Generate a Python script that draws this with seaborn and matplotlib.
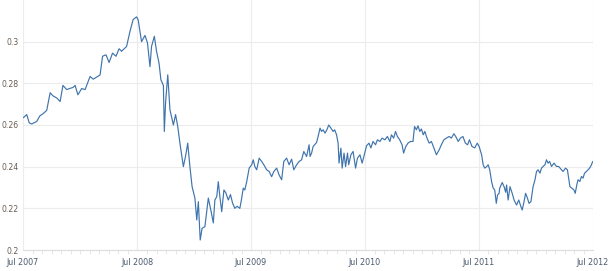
import numpy as np
import pandas as pd
import matplotlib
matplotlib.use("Agg")
import matplotlib.pyplot as plt
import matplotlib.dates as mdates
import seaborn as sns

# Days since 1 Jul 2007
days = [1, 12, 20, 28, 44, 54, 64, 76, 87, 96, 108, 119, 128, 140, 151, 160, 167, 176, 188, 199,
        215, 225, 236, 247, 255, 266, 276, 287, 298, 308, 316, 332, 343, 353, 364, 369, 380, 391, 399, 407,
        412, 421, 428, 436, 442, 450, 453, 457, 464, 471, 482, 489, 496, 503, 514, 521, 528, 535, 542, 551,
        557, 562, 568, 574, 583, 594, 602, 610, 615, 621, 626, 631, 637, 644, 650, 658, 665, 672, 679, 686,
        695, 700, 706, 711, 717, 725, 733, 738, 743, 749, 757, 765, 772, 781, 789, 797, 804, 813, 821, 829,
        836, 845, 853, 861, 868, 877, 885, 893, 900, 909, 917, 920, 925, 930, 941, 946, 952, 957, 962, 968,
        974, 980, 987, 994, 999, 1005, 1010, 1013, 1019, 1023, 1029, 1034, 1040, 1044, 1051, 1058, 1066, 1072, 1080, 1087,
        1094, 1101, 1109, 1115, 1122, 1130, 1136, 1144, 1151, 1160, 1168, 1176, 1181, 1188, 1194, 1200, 1207, 1215, 1220, 1227,
        1234, 1242, 1250, 1255, 1261, 1266, 1272, 1277, 1283, 1288, 1295, 1302, 1309, 1317, 1325, 1334, 1341, 1349, 1357, 1366,
        1373, 1381, 1387, 1395, 1402, 1410, 1418, 1425, 1431, 1439, 1448, 1456, 1462, 1470, 1475, 1480, 1486, 1491, 1496, 1502,
        1507, 1512, 1517, 1521, 1526, 1528, 1536, 1542, 1547, 1550, 1555, 1561, 1568, 1574, 1582, 1589, 1596, 1600, 1606, 1611,
        1617, 1622, 1628, 1635, 1641, 1646, 1651, 1657, 1662, 1667, 1673, 1678, 1683, 1688, 1694, 1702, 1710, 1717, 1726, 1731,
        1739, 1745, 1749, 1753, 1760, 1766, 1770, 1775, 1779, 1785, 1790, 1795, 1800, 1806, 1811, 1816, 1822, 1826]

values = [0.2635, 0.2650, 0.2610, 0.2605, 0.2617, 0.2644, 0.2654, 0.2670, 0.2755, 0.2740, 0.2730, 0.2713, 0.2790, 0.2770, 0.2776, 0.2780, 0.2790, 0.2745, 0.2775, 0.2770,
          0.2833, 0.2820, 0.2830, 0.2840, 0.2930, 0.2937, 0.2900, 0.2945, 0.2930, 0.2966, 0.2954, 0.2977, 0.3050, 0.3106, 0.3119, 0.3106, 0.3000, 0.3030, 0.2994, 0.2880,
          0.2977, 0.3026, 0.2954, 0.2897, 0.2817, 0.2790, 0.2569, 0.2707, 0.2841, 0.2673, 0.2600, 0.2650, 0.2593, 0.2513, 0.2400, 0.2450, 0.2513, 0.2400, 0.2304, 0.2249,
          0.2144, 0.2232, 0.2048, 0.2104, 0.2112, 0.2249, 0.2192, 0.2130, 0.2240, 0.2256, 0.2328, 0.2256, 0.2184, 0.2288, 0.2275, 0.2240, 0.2266, 0.2224, 0.2200, 0.2210,
          0.2200, 0.2240, 0.2297, 0.2288, 0.2328, 0.2393, 0.2409, 0.2433, 0.2401, 0.2385, 0.2441, 0.2425, 0.2409, 0.2385, 0.2377, 0.2352, 0.2377, 0.2393, 0.2360, 0.2337,
          0.2425, 0.2441, 0.2409, 0.2436, 0.2385, 0.2409, 0.2425, 0.2433, 0.2473, 0.2449, 0.2505, 0.2449, 0.2465, 0.2497, 0.2516, 0.2545, 0.2585, 0.2569, 0.2577, 0.2561,
          0.2577, 0.2600, 0.2585, 0.2569, 0.2577, 0.2553, 0.2513, 0.2417, 0.2489, 0.2393, 0.2465, 0.2400, 0.2465, 0.2409, 0.2457, 0.2473, 0.2393, 0.2441, 0.2457, 0.2417,
          0.2457, 0.2500, 0.2513, 0.2490, 0.2521, 0.2505, 0.2529, 0.2521, 0.2537, 0.2529, 0.2545, 0.2521, 0.2553, 0.2537, 0.2569, 0.2545, 0.2530, 0.2505, 0.2465, 0.2497,
          0.2513, 0.2521, 0.2521, 0.2593, 0.2577, 0.2596, 0.2569, 0.2581, 0.2553, 0.2569, 0.2537, 0.2513, 0.2521, 0.2490, 0.2457, 0.2481, 0.2505, 0.2529, 0.2537, 0.2545,
          0.2537, 0.2558, 0.2545, 0.2521, 0.2537, 0.2545, 0.2513, 0.2505, 0.2529, 0.2497, 0.2490, 0.2513, 0.2497, 0.2457, 0.2409, 0.2393, 0.2400, 0.2409, 0.2385, 0.2328,
          0.2297, 0.2288, 0.2224, 0.2264, 0.2272, 0.2297, 0.2324, 0.2304, 0.2277, 0.2312, 0.2240, 0.2304, 0.2272, 0.2240, 0.2216, 0.2240, 0.2208, 0.2192, 0.2232, 0.2272,
          0.2248, 0.2224, 0.2232, 0.2304, 0.2337, 0.2377, 0.2385, 0.2369, 0.2393, 0.2401, 0.2409, 0.2433, 0.2417, 0.2425, 0.2401, 0.2417, 0.2401, 0.2401, 0.2385, 0.2377,
          0.2393, 0.2385, 0.2345, 0.2304, 0.2296, 0.2288, 0.2272, 0.2312, 0.2337, 0.2329, 0.2353, 0.2345, 0.2369, 0.2377, 0.2385, 0.2393, 0.2409, 0.2425]

y_ticks = [0.2, 0.22, 0.24, 0.26, 0.28, 0.3]
y_tick_labels = ["0.2", "0.22", "0.24", "0.26", "0.28", "0.3"]
x_tick_labels = ["Jul 2007", "Jul 2008", "Jul 2009", "Jul 2010", "Jul 2011", "Jul 2012"]

start = pd.Timestamp("2007-07-01")
df = pd.DataFrame({"date": start + pd.to_timedelta(days, unit="D"), "value": values})

sns.set_theme(style="white")
plt.rcParams["font.family"] = ["DejaVu Sans"]

fig = plt.figure(figsize=(6.15, 2.71), dpi=100)
ax = fig.add_axes([23 / 615, 1 - 250 / 271, 570 / 615, 250 / 271])

sns.lineplot(data=df, x="date", y="value", ax=ax, color="#3f74ad", linewidth=0.85)

ax.set_ylim(0.2, 0.32)
ax.set_xlim(pd.Timestamp("2007-07-01"), pd.Timestamp("2012-07-01"))
ax.set_yticks(y_ticks)
ax.set_yticklabels(y_tick_labels)
x_ticks = [pd.Timestamp(f"{y}-07-01") for y in range(2007, 2013)]
ax.set_xticks(x_ticks)
ax.set_xticklabels(x_tick_labels)
ax.xaxis.set_minor_locator(mdates.MonthLocator())

ax.set_xlabel("")
ax.set_ylabel("")
ax.grid(True, which="major", color="#ececec", linewidth=0.8)
ax.set_axisbelow(True)
for s in ["top", "right", "left"]:
    ax.spines[s].set_visible(False)
ax.spines["bottom"].set_color("#dcdcdc")
ax.spines["bottom"].set_linewidth(0.8)

ax.tick_params(axis="y", which="major", length=0, pad=3, labelsize=5.6, labelcolor="#6b5d52")
ax.tick_params(axis="x", which="major", length=4, width=0.6, color="#d8d8d8", pad=2,
               labelsize=5.8, labelcolor="#4a5a70", direction="out")
ax.tick_params(axis="x", which="minor", length=3, width=0.5, color="#dddddd", direction="out", bottom=True)

fig.savefig("out.png", dpi=100, facecolor="white")
